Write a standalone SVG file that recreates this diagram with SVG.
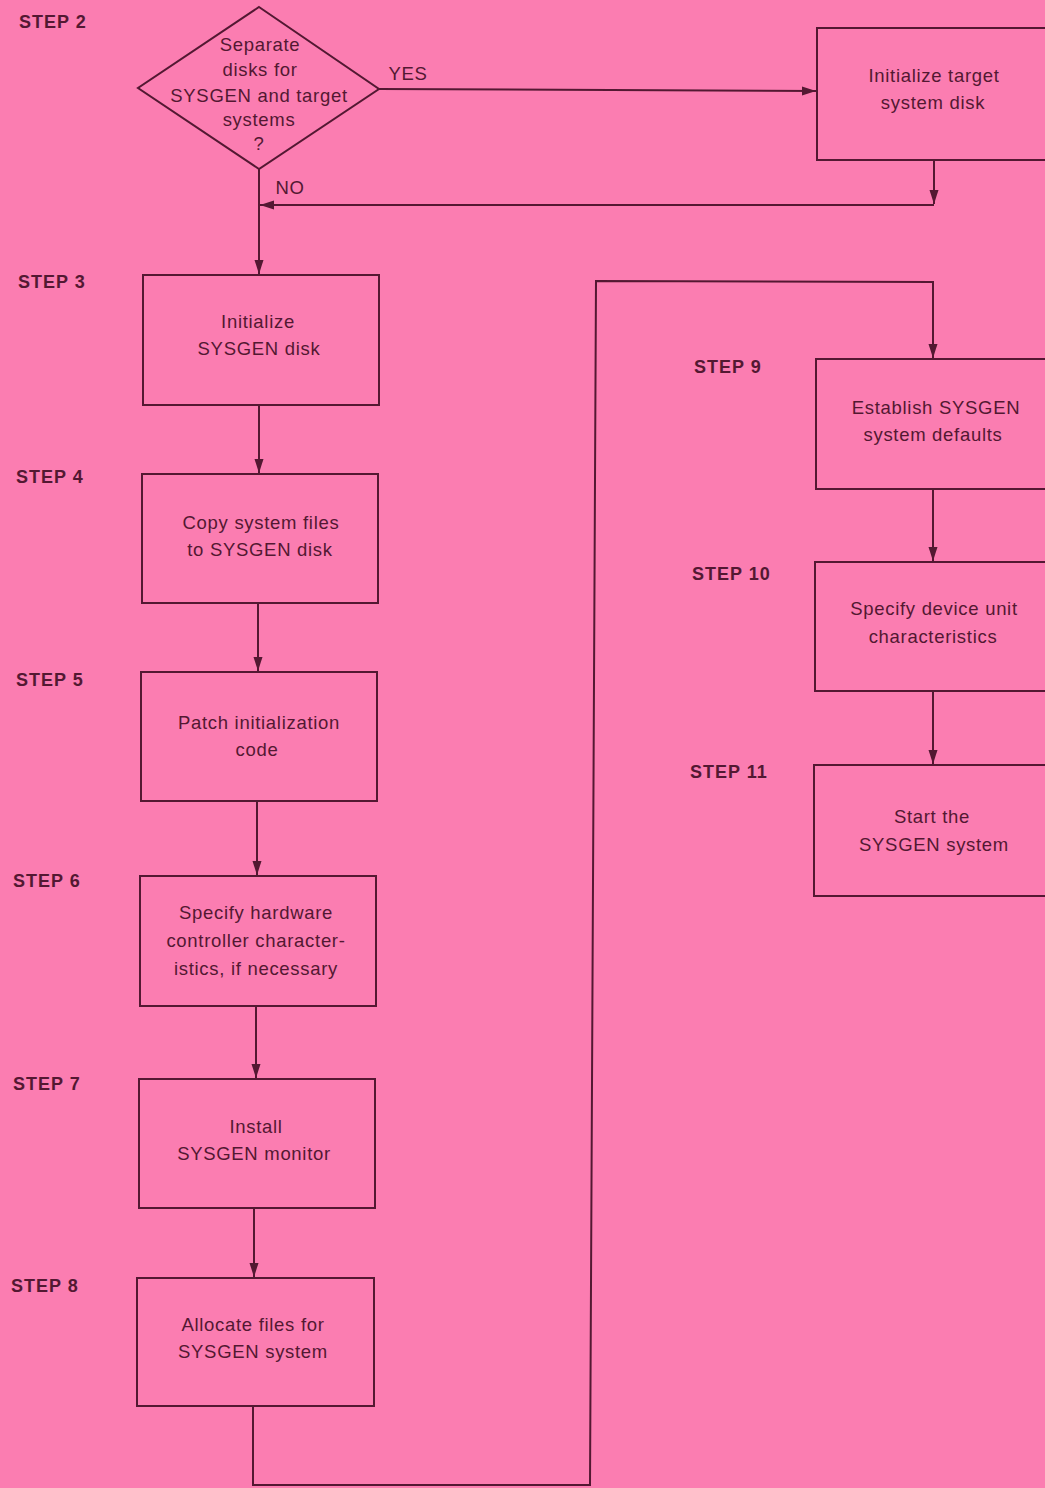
<svg xmlns="http://www.w3.org/2000/svg" width="1045" height="1488" viewBox="0 0 1045 1488">
<style>
.n{fill:none;stroke:#531832;stroke-width:2}
.c{fill:none;stroke:#531832;stroke-width:2}
.t{font-family:"Liberation Sans",Arial,sans-serif;font-size:18.5px;letter-spacing:0.7px;fill:#531832;text-anchor:middle}
.s{font-family:"Liberation Sans",Arial,sans-serif;font-size:18px;letter-spacing:1px;font-weight:bold;fill:#531832}
</style>
<defs>
<marker id="a" markerWidth="14" markerHeight="10" refX="14" refY="5" orient="auto" markerUnits="userSpaceOnUse">
<path d="M0,0.5 L14,5 L0,9.5 Z" fill="#531832"/>
</marker>
</defs>
<rect width="1045" height="1488" fill="#fb7db1"/>
<g id="labels">
<text class="s" x="19" y="28">STEP 2</text>
<text class="s" x="18" y="288">STEP 3</text>
<text class="s" x="16" y="483">STEP 4</text>
<text class="s" x="16" y="686">STEP 5</text>
<text class="s" x="13" y="887">STEP 6</text>
<text class="s" x="13" y="1090">STEP 7</text>
<text class="s" x="11" y="1292">STEP 8</text>
<text class="s" x="694" y="373">STEP 9</text>
<text class="s" x="692" y="580">STEP 10</text>
<text class="s" x="690" y="778">STEP 11</text>
</g>
<g id="connectors">
<path class="c" d="M379,89 L816,91" marker-end="url(#a)"/>
<text class="t" x="408" y="80">YES</text>
<path class="c" d="M934,160 L934,204" marker-end="url(#a)"/>
<path class="c" d="M934,205 L260,205" marker-end="url(#a)"/>
<text class="t" x="290" y="194">NO</text>
<path class="c" d="M259,169 L259,274" marker-end="url(#a)"/>
<path class="c" d="M259,405 L259,473" marker-end="url(#a)"/>
<path class="c" d="M258,603 L258,671" marker-end="url(#a)"/>
<path class="c" d="M257,801 L257,875" marker-end="url(#a)"/>
<path class="c" d="M256,1006 L256,1078" marker-end="url(#a)"/>
<path class="c" d="M254,1208 L254,1277" marker-end="url(#a)"/>
<path class="c" d="M253,1406 L253,1485 L590,1485 L596,281 L933,282 L933,358" marker-end="url(#a)"/>
<path class="c" d="M933,489 L933,561" marker-end="url(#a)"/>
<path class="c" d="M933,691 L933,764" marker-end="url(#a)"/>
</g>
<g id="step2">
<polygon class="n" points="259,7 379,89 259,169 138,88"/>
<text class="t" x="260" y="51">Separate</text>
<text class="t" x="260" y="76">disks for</text>
<text class="t" x="259" y="102">SYSGEN and target</text>
<text class="t" x="259" y="126">systems</text>
<text class="t" x="259" y="150">?</text>
</g>
<g id="target">
<rect class="n" x="817" y="28" width="240" height="132"/>
<text class="t" x="934" y="82">Initialize target</text>
<text class="t" x="933" y="109">system disk</text>
</g>
<g id="step3">
<rect class="n" x="143" y="275" width="236" height="130"/>
<text class="t" x="258" y="328">Initialize</text>
<text class="t" x="259" y="355">SYSGEN disk</text>
</g>
<g id="step4">
<rect class="n" x="142" y="474" width="236" height="129"/>
<text class="t" x="261" y="529">Copy system files</text>
<text class="t" x="260" y="556">to SYSGEN disk</text>
</g>
<g id="step5">
<rect class="n" x="141" y="672" width="236" height="129"/>
<text class="t" x="259" y="729">Patch initialization</text>
<text class="t" x="257" y="756">code</text>
</g>
<g id="step6">
<rect class="n" x="140" y="876" width="236" height="130"/>
<text class="t" x="256" y="919">Specify hardware</text>
<text class="t" x="256" y="947">controller character-</text>
<text class="t" x="256" y="975">istics, if necessary</text>
</g>
<g id="step7">
<rect class="n" x="139" y="1079" width="236" height="129"/>
<text class="t" x="256" y="1133">Install</text>
<text class="t" x="254" y="1160">SYSGEN monitor</text>
</g>
<g id="step8">
<rect class="n" x="137" y="1278" width="237" height="128"/>
<text class="t" x="253" y="1331">Allocate files for</text>
<text class="t" x="253" y="1358">SYSGEN system</text>
</g>
<g id="step9">
<rect class="n" x="816" y="359" width="240" height="130"/>
<text class="t" x="936" y="414">Establish SYSGEN</text>
<text class="t" x="933" y="441">system defaults</text>
</g>
<g id="step10">
<rect class="n" x="815" y="562" width="240" height="129"/>
<text class="t" x="934" y="615">Specify device unit</text>
<text class="t" x="933" y="643">characteristics</text>
</g>
<g id="step11">
<rect class="n" x="814" y="765" width="240" height="131"/>
<text class="t" x="932" y="823">Start the</text>
<text class="t" x="934" y="851">SYSGEN system</text>
</g>
</svg>
